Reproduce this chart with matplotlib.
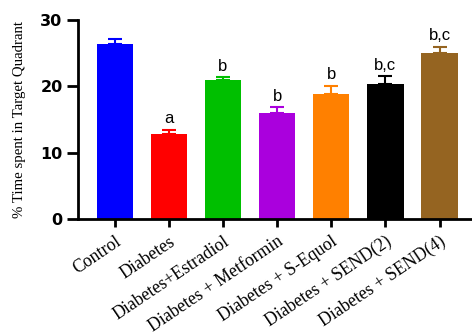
import matplotlib
matplotlib.use("Agg")
import matplotlib.pyplot as plt

categories = ["Control", "Diabetes", "Diabetes+Estradiol", "Diabetes + Metformin",
              "Diabetes + S-Equol", "Diabetes + SEND(2)", "Diabetes + SEND(4)"]
means = [26.4, 12.85, 20.9, 16.0, 18.9, 20.4, 25.0]
errors = [0.7, 0.65, 0.5, 0.9, 1.2, 1.2, 1.0]
letters = ["", "a", "b", "b", "b", "b,c", "b,c"]
colors = ["#0000FF", "#FF0000", "#00BF00", "#AA00DD", "#FF8000", "#000000", "#956421"]
yticks = [0, 10, 20, 30]

fig = plt.figure(figsize=(4.72, 3.36), dpi=100)
ax = fig.add_axes([0.165, 0.348, 0.835, 0.592])
x = list(range(len(categories)))
ax.bar(x, means, width=0.67, color=colors, zorder=2)
for xi, m, e, c, lab in zip(x, means, errors, colors, letters):
    ax.errorbar(xi, m, yerr=[[0], [e]], fmt="none", ecolor=c, elinewidth=1.5,
                capsize=5, capthick=1.5, zorder=3)
    if lab:
        ax.text(xi, m + e + 0.5, lab, ha="center", va="bottom",
                fontsize=12, family="Liberation Sans")

ax.set_xlim(-0.68, 6.6)
ax.set_ylim(0, 30)
ax.set_yticks(yticks)
ax.set_yticklabels([str(t) for t in yticks], fontsize=11.5, fontweight="bold",
                   family="DejaVu Sans")
ax.set_xticks(x)
ax.set_xticklabels(categories, rotation=34, ha="right", rotation_mode="anchor",
                   fontsize=12.8, family="Liberation Serif")
ax.tick_params(axis="y", width=2, length=8, direction="out", pad=3)
ax.tick_params(axis="x", width=2, length=6, direction="out", pad=4)
for s in ["top", "right"]:
    ax.spines[s].set_visible(False)
for s in ["left", "bottom"]:
    ax.spines[s].set_linewidth(2)
ax.set_ylabel("% Time spent in Target Quadrant", fontsize=10.7, family="Liberation Serif",
              labelpad=10)
fig.savefig("out.png", dpi=100)
